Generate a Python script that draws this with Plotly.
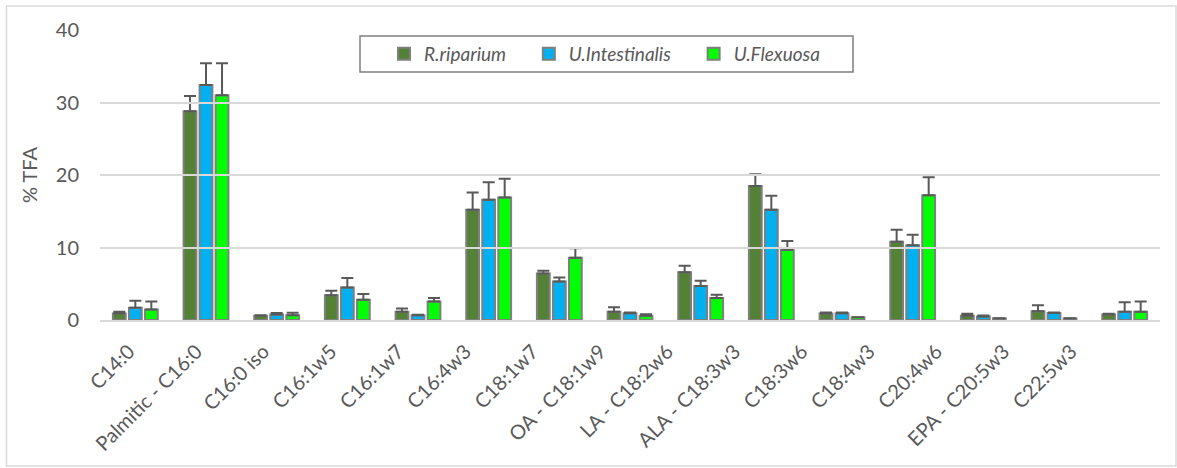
import plotly.graph_objects as go

categories = ["C14:0", "Palmitic - C16:0", "C16:0 iso", "C16:1w5", "C16:1w7", "C16:4w3",
              "C18:1w7", "OA - C18:1w9", "LA - C18:2w6", "ALA - C18:3w3", "C18:3w6",
              "C18:4w3", "C20:4w6", "EPA - C20:5w3", "C22:5w3"]

r_riparium = [0.9, 28.8, 0.6, 3.4, 1.15, 15.2, 6.4, 1.15, 6.6, 18.5, 0.9, 10.8, 0.6, 1.2, 0.75]
r_riparium_err = [0.25, 2.1, 0.05, 0.65, 0.45, 2.4, 0.4, 0.6, 0.9, 1.6, 0.12, 1.65, 0.25, 0.85, 0.1]

u_intestinalis = [1.7, 32.4, 0.75, 4.5, 0.65, 16.6, 5.3, 0.92, 4.7, 15.2, 0.92, 10.3, 0.5, 0.97, 1.15]
u_intestinalis_err = [0.95, 3.0, 0.2, 1.3, 0.08, 2.4, 0.55, 0.1, 0.7, 1.95, 0.1, 1.45, 0.12, 0.05, 1.3]

u_flexuosa = [1.45, 31.0, 0.65, 2.8, 2.55, 16.9, 8.6, 0.6, 3.05, 9.7, 0.37, 17.2, 0.23, 0.23, 1.15]
u_flexuosa_err = [1.1, 4.4, 0.35, 0.8, 0.5, 2.6, 1.3, 0.2, 0.45, 1.2, 0.02, 2.5, 0.02, 0.02, 1.4]

series = [
    ("R.riparium", r_riparium, r_riparium_err, "#538135"),
    ("U.Intestinalis", u_intestinalis, u_intestinalis_err, "#00B0F0"),
    ("U.Flexuosa", u_flexuosa, u_flexuosa_err, "#00FF00"),
]

FONT = "Lato, 'Open Sans', sans-serif"
TXT = "#595959"
PAD = "\u00a0" * 4

W, H = 1177, 468
L, R, T, B = 100, 17, 30, 148
PW, PH = W - L - R, H - T - B


def px_x(p):
    return (p - L) / PW


def px_y(p):
    return (H - B - p) / PH


fig = go.Figure()
for i, (name, vals, errs, col) in enumerate(series):
    fig.add_trace(go.Bar(
        x=categories, y=vals, name=name + (PAD if i < len(series) - 1 else ""),
        marker=dict(color=col, line=dict(color="#7f7f7f", width=2)),
        error_y=dict(type="data", symmetric=False, array=errs, arrayminus=[0] * len(errs),
                     color="#595959", thickness=2, width=6),
    ))

# label axis (the reference's tick labels are spaced slightly tighter than the bar groups)
fig.add_trace(go.Scatter(x=categories, y=[0] * len(categories), xaxis="x2", yaxis="y",
                         mode="none", showlegend=False, hoverinfo="skip"))

fig.update_layout(
    width=W, height=H,
    margin=dict(l=L, r=R, t=T, b=B, autoexpand=False),
    paper_bgcolor="white", plot_bgcolor="rgba(0,0,0,0)",
    barmode="group", bargap=0.32, bargroupgap=0.2,
    font=dict(family=FONT, color=TXT),
    legend=dict(orientation="h", x=px_x(384), xanchor="left", y=px_y(54), yanchor="middle",
                font=dict(size=19, color=TXT, style="italic"),
                borderwidth=0, bgcolor="rgba(0,0,0,0)",
                itemwidth=30, traceorder="normal"),
    showlegend=True,
    xaxis=dict(showticklabels=False, showgrid=False,
               showline=True, linecolor="#d9d9d9", linewidth=2, ticks="", automargin=False),
    xaxis2=dict(anchor="y", domain=[0, px_x(1104)], type="category",
                range=[-0.431, 14.49], autorange=False,
                tickangle=-45, tickfont=dict(size=20, color=TXT), showgrid=False,
                showline=False, zeroline=False, ticks="", ticklabelstandoff=15, automargin=False),
    yaxis=dict(range=[0, 40], dtick=10, tickfont=dict(size=20, color=TXT),
               gridcolor="#d9d9d9", gridwidth=2, zeroline=False, showline=False,
               ticks="", ticklabelstandoff=20, automargin=False,
               title=dict(text="% TFA", font=dict(size=20, color=TXT), standoff=12)),
    shapes=[
        dict(type="rect", xref="paper", yref="paper",
             x0=px_x(6.5), x1=px_x(1176), y0=px_y(466), y1=px_y(6),
             line=dict(color="#d9d9d9", width=1.5), fillcolor="rgba(0,0,0,0)", layer="below"),
        dict(type="rect", xref="paper", yref="paper",
             x0=px_x(360), x1=px_x(853), y0=px_y(72), y1=px_y(36),
             line=dict(color="#7f7f7f", width=1.5), fillcolor="white", layer="below"),
    ],
)

fig.write_html("out.html", config={"displayModeBar": False},
               post_script="document.body.style.margin='0';")
